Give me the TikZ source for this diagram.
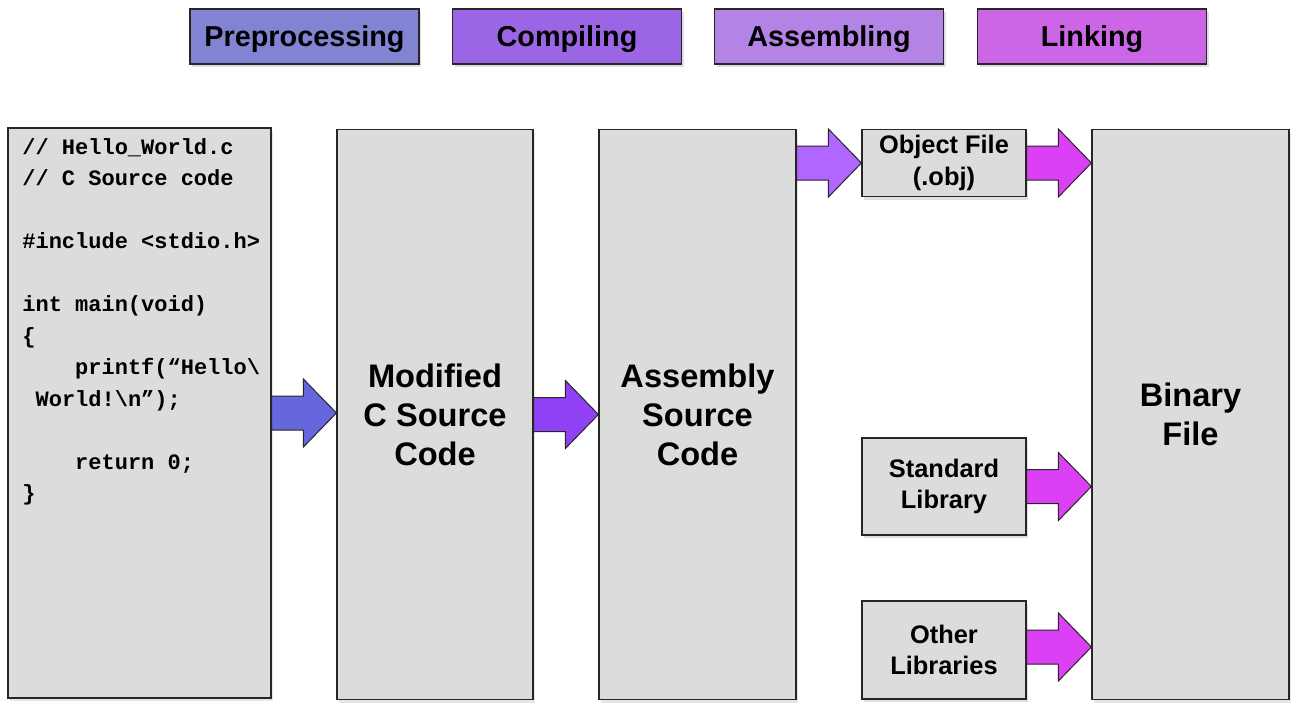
\documentclass[tikz,border=0pt]{standalone}
\usepackage{fontspec}
\setmainfont{Liberation Sans}
\setmonofont{Liberation Mono}
\usetikzlibrary{calc,shadows}
\definecolor{StagePre}{HTML}{8283D3}
\definecolor{StageCmp}{HTML}{9B66E6}
\definecolor{StageAsm}{HTML}{B384E6}
\definecolor{StageLnk}{HTML}{CD66E6}
\definecolor{ArrowPre}{HTML}{6666DD}
\definecolor{ArrowCmp}{HTML}{9040F5}
\definecolor{ArrowAsm}{HTML}{B066FF}
\definecolor{ArrowLnk}{HTML}{DC40F5}
\definecolor{BoxGray}{HTML}{DCDCDC}
\definecolor{InkDark}{HTML}{262626}
\tikzset{
  stage/.style={draw=InkDark, line width=0.6pt, minimum width=114.5pt,
             minimum height=27.5pt, inner sep=0pt, text height=10.3pt, text depth=0pt,
             font=\fontsize{14.4}{17}\selectfont\bfseries,
             drop shadow={shadow xshift=1.2pt, shadow yshift=-1.5pt, opacity=0.25}},
  bigbox/.style={draw=InkDark, fill=BoxGray, line width=0.6pt,
             minimum height=285pt, inner sep=0pt, align=center,
             font=\fontsize{16.3}{19.5}\selectfont\bfseries,
             drop shadow={shadow xshift=1.2pt, shadow yshift=-1.5pt, opacity=0.2}},
  smallbox/.style={draw=InkDark, fill=BoxGray, line width=0.6pt,
             minimum width=82pt, inner sep=0pt, align=center,
             font=\fontsize{12.7}{15.75}\selectfont\bfseries,
             drop shadow={shadow xshift=1.2pt, shadow yshift=-1.5pt, opacity=0.25}},
  codetext/.style={inner sep=0pt, align=left,
             font=\ttfamily\bfseries\fontsize{11}{15.75}\selectfont},
  fatarrow/.style={draw=InkDark, line width=0.5pt, to path={
             let \p1=(\tikztostart), \p2=(\tikztotarget) in
             (\x1,\y1+8.5pt) -- (\x2-16.5pt,\y1+8.5pt) -- (\x2-16.5pt,\y1+17pt)
             -- (\x2,\y1) -- (\x2-16.5pt,\y1-17pt) -- (\x2-16.5pt,\y1-8.5pt)
             -- (\x1,\y1-8.5pt) -- cycle}},
}

\begin{document}
\begin{tikzpicture}[x=0.5pt, y=-0.5pt]
\useasboundingbox (0,0) rectangle (1297,707);
% stage headers
\node[stage, fill=StagePre] (hdrpre) at (304.5,36.5) {Preprocessing};
\node[stage, fill=StageCmp] (hdrcmp) at (567,36.5) {Compiling};
\node[stage, fill=StageAsm] (hdrasm) at (829,36.5) {Assembling};
\node[stage, fill=StageLnk] (hdrlnk) at (1092,36.5) {Linking};
% main boxes
\node[bigbox, minimum width=131.5pt] (src) at (139.5,413) {};
\node[codetext, anchor=base west] (code) at (22,500.5) {%
// Hello\_World.c\\
// C Source code\\
~\\
\#include <stdio.h>\\
~\\
int main(void)\\
\{\\
\phantom{xxxx}printf(“Hello\textbackslash\\
\phantom{x}World!\textbackslash n”);\\
~\\
\phantom{xxxx}return 0;\\
\}};
\node[bigbox, minimum width=98pt] (mod) at (435,414.5) {Modified\\C Source\\Code};
\node[bigbox, minimum width=98.5pt] (asm) at (697.5,414.5) {Assembly\\Source\\Code};
\node[bigbox, minimum width=98.5pt] (bin) at (1190.5,414.5) {Binary\\File};
\node[smallbox, minimum height=33.5pt] (obj) at (944,163) {Object File\\(.obj)};
\node[smallbox, minimum height=48.5pt] (std) at (944,486.5) {Standard\\Library};
\node[smallbox, minimum height=49pt] (oth) at (944,650) {Other\\Libraries};
% block arrows
\draw[fatarrow, fill=ArrowPre] (src.east) to (mod.west);
\draw[fatarrow, fill=ArrowCmp] (mod.east) to (asm.west);
\draw[fatarrow, fill=ArrowAsm] (asm.east |- obj.west) to (obj.west);
\draw[fatarrow, fill=ArrowLnk] (obj.east) to (bin.west |- obj.east);
\draw[fatarrow, fill=ArrowLnk] (std.east) to (bin.west |- std.east);
\draw[fatarrow, fill=ArrowLnk] ($(oth.east)+(0,-3)$) to (bin.west |- oth.east);
\end{tikzpicture}
\end{document}
